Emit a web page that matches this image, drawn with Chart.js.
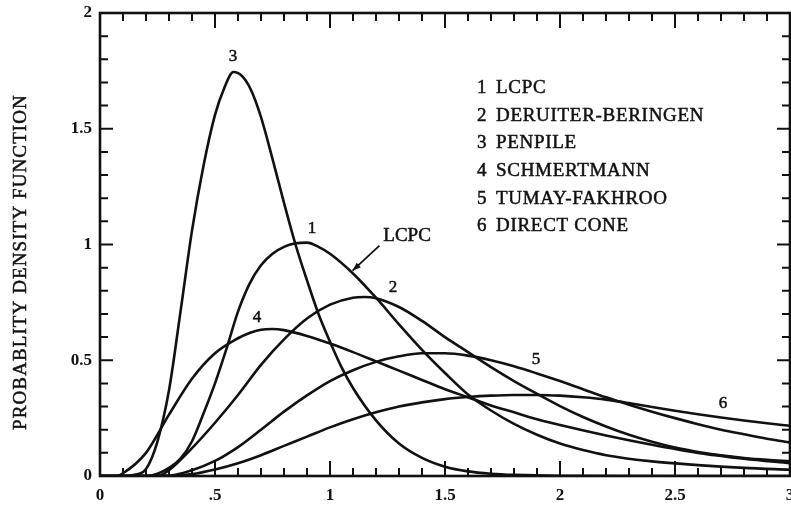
<!DOCTYPE html>
<html>
<head>
<meta charset="utf-8">
<script src="https://cdn.jsdelivr.net/npm/chart.js@4.4.1/dist/chart.umd.min.js"></script>
<style>
  html, body { margin: 0; padding: 0; background: #fff; }
</style>
</head>
<body>
<canvas id="pdfChart" width="791" height="505"></canvas>
<script>
// method names, numbered 1..6 as in the figure
const methodNames = ['LCPC', 'DERUITER-BERINGEN', 'PENPILE', 'SCHMERTMANN', 'TUMAY-FAKHROO', 'DIRECT CONE'];

// values
const lcpcX = [0, 0.2, 0.25, 0.3, 0.35, 0.4, 0.45, 0.5, 0.55, 0.6, 0.65, 0.7, 0.75, 0.8, 0.85, 0.9, 0.95, 1.0, 1.1, 1.2, 1.3, 1.4, 1.5, 1.6, 1.7, 1.8, 1.9, 2.0, 2.1, 2.2, 2.4, 2.6, 2.8, 3.0];
const lcpcY = [0, 0, 0.01, 0.035, 0.075, 0.15, 0.27, 0.4, 0.55, 0.71, 0.83, 0.91, 0.96, 0.99, 1.005, 1.008, 0.99, 0.96, 0.875, 0.77, 0.655, 0.545, 0.445, 0.352, 0.283, 0.225, 0.178, 0.14, 0.112, 0.09, 0.063, 0.047, 0.035, 0.027];

const deruiterX = [0, 0.25, 0.3, 0.4, 0.5, 0.6, 0.7, 0.8, 0.9, 1.0, 1.1, 1.15, 1.2, 1.3, 1.4, 1.5, 1.6, 1.7, 1.8, 1.9, 2.0, 2.1, 2.2, 2.3, 2.4, 2.5, 2.6, 2.7, 2.8, 2.9, 3.0];
const deruiterY = [0, 0, 0.025, 0.12, 0.23, 0.35, 0.48, 0.59, 0.68, 0.74, 0.77, 0.773, 0.768, 0.73, 0.67, 0.6, 0.535, 0.47, 0.41, 0.355, 0.302, 0.255, 0.214, 0.178, 0.148, 0.123, 0.104, 0.089, 0.078, 0.07, 0.064];

const penpileX = [0, 0.1, 0.15, 0.2, 0.25, 0.3, 0.35, 0.4, 0.45, 0.5, 0.54, 0.58, 0.62, 0.66, 0.7, 0.75, 0.8, 0.85, 0.9, 0.95, 1.0, 1.05, 1.1, 1.2, 1.3, 1.4, 1.5, 1.6, 1.7, 1.8, 2.0, 2.5, 3.0];
const penpileY = [0, 0, 0.005, 0.03, 0.15, 0.37, 0.71, 1.06, 1.34, 1.56, 1.675, 1.745, 1.725, 1.66, 1.55, 1.37, 1.18, 1.0, 0.845, 0.70, 0.58, 0.47, 0.38, 0.24, 0.14, 0.078, 0.04, 0.02, 0.01, 0.005, 0.001, 0, 0];

const schmertX = [0, 0.07, 0.1, 0.2, 0.3, 0.4, 0.5, 0.6, 0.65, 0.7, 0.75, 0.8, 0.9, 1.0, 1.1, 1.2, 1.3, 1.4, 1.5, 1.6, 1.7, 1.8, 1.9, 2.0, 2.2, 2.4, 2.6, 2.8, 3.0];
const schmertY = [0, 0, 0.012, 0.1, 0.265, 0.42, 0.53, 0.595, 0.618, 0.632, 0.635, 0.63, 0.605, 0.572, 0.535, 0.495, 0.455, 0.415, 0.375, 0.34, 0.305, 0.275, 0.245, 0.22, 0.175, 0.135, 0.1, 0.075, 0.055];

const tumayX = [0, 0.3, 0.4, 0.5, 0.6, 0.7, 0.8, 0.9, 1.0, 1.1, 1.2, 1.3, 1.4, 1.5, 1.6, 1.7, 1.8, 1.9, 2.0, 2.1, 2.2, 2.3, 2.4, 2.5, 2.6, 2.7, 2.8, 2.9, 3.0];
const tumayY = [0, 0.002, 0.025, 0.065, 0.125, 0.2, 0.278, 0.348, 0.41, 0.457, 0.493, 0.517, 0.53, 0.53, 0.52, 0.5, 0.474, 0.443, 0.41, 0.375, 0.34, 0.308, 0.278, 0.25, 0.224, 0.2, 0.18, 0.161, 0.145];

const directX = [0, 0.3, 0.4, 0.5, 0.6, 0.7, 0.8, 0.9, 1.0, 1.1, 1.2, 1.3, 1.4, 1.5, 1.6, 1.7, 1.8, 1.9, 2.0, 2.1, 2.2, 2.3, 2.4, 2.5, 2.6, 2.7, 2.8, 2.9, 3.0];
const directY = [0, 0, 0.008, 0.028, 0.055, 0.09, 0.13, 0.17, 0.21, 0.245, 0.275, 0.3, 0.318, 0.332, 0.341, 0.347, 0.35, 0.35, 0.347, 0.34, 0.33, 0.315, 0.298, 0.282, 0.267, 0.253, 0.24, 0.228, 0.217];

const xTickLabels = ['0', '.5', '1', '1.5', '2', '2.5', '3'];
const yTickLabels = ['0', '0.5', '1', '1.5', '2'];

const curves = [
    [lcpcX, lcpcY], [deruiterX, deruiterY], [penpileX, penpileY],
    [schmertX, schmertY], [tumayX, tumayY], [directX, directY]
];

const ink = '#111';
const serif = '"Liberation Serif", "Times New Roman", serif';

const datasets = curves.map(([xs, ys], i) => ({
    label: methodNames[i],
    data: xs.map((v, k) => ({ x: v, y: ys[k] })),
    borderColor: ink,
    borderWidth: 2.6,
    pointRadius: 0,
    fill: false,
    cubicInterpolationMode: 'monotone'
}));

// where the little curve numbers sit (data units)
const numberSpots = [[0.922, 1.07], [1.274, 0.815], [0.578, 1.81], [0.683, 0.683], [1.896, 0.505], [2.709, 0.315]];

// filled text with a thin outline, the scan prints a little heavy
function inkText(ctx, str, px, py) {
    ctx.fillText(str, px, py);
    ctx.strokeText(str, px, py);
}

const notes = {
    id: 'notes',
    afterDatasetsDraw(chart) {
        const { ctx, chartArea: { left, right, top, bottom }, scales: { x, y } } = chart;
        ctx.save();
        ctx.strokeStyle = ink;
        ctx.fillStyle = ink;

        // inward ticks on all four sides
        ctx.lineWidth = 2;
        ctx.beginPath();
        x.ticks.forEach(t => {
            const px = x.getPixelForValue(t.value);
            const len = Math.round(t.value * 10) % 5 === 0 ? 15 : 8;
            ctx.moveTo(px, bottom); ctx.lineTo(px, bottom - len);
            ctx.moveTo(px, top); ctx.lineTo(px, top + len);
        });
        y.ticks.forEach(t => {
            const py = y.getPixelForValue(t.value);
            const len = Math.round(t.value * 10) % 5 === 0 ? 13 : 8;
            ctx.moveTo(left, py); ctx.lineTo(left + len, py);
            ctx.moveTo(right, py); ctx.lineTo(right - len, py);
        });
        ctx.stroke();

        ctx.lineWidth = 2.6;
        ctx.strokeRect(left, top, right - left, bottom - top);

        // curve numbers
        ctx.lineWidth = 0.5;
        ctx.font = '17px ' + serif;
        ctx.textAlign = 'center';
        ctx.textBaseline = 'middle';
        numberSpots.forEach(([vx, vy], i) => {
            inkText(ctx, String(i + 1), x.getPixelForValue(vx), y.getPixelForValue(vy));
        });

        // LCPC call-out with arrow
        ctx.font = '19px ' + serif;
        inkText(ctx, 'LCPC', x.getPixelForValue(1.335), y.getPixelForValue(1.035));
        const ax0 = x.getPixelForValue(1.215), ay0 = y.getPixelForValue(0.995);
        const ax1 = x.getPixelForValue(1.098), ay1 = y.getPixelForValue(0.887);
        ctx.lineWidth = 1.8;
        ctx.beginPath(); ctx.moveTo(ax0, ay0); ctx.lineTo(ax1, ay1); ctx.stroke();
        const ang = Math.atan2(ay1 - ay0, ax1 - ax0);
        ctx.beginPath();
        ctx.moveTo(ax1, ay1);
        ctx.lineTo(ax1 - 9 * Math.cos(ang - 0.35), ay1 - 9 * Math.sin(ang - 0.35));
        ctx.lineTo(ax1 - 9 * Math.cos(ang + 0.35), ay1 - 9 * Math.sin(ang + 0.35));
        ctx.closePath(); ctx.fill();

        // numbered list of methods
        ctx.lineWidth = 0.5;
        ctx.textAlign = 'left';
        ctx.letterSpacing = '0.7px';
        methodNames.forEach((name, i) => {
            const ly = 88 + i * 27.7;
            inkText(ctx, String(i + 1), 477, ly);
            inkText(ctx, name, 496, ly);
        });

        // y axis title
        ctx.letterSpacing = '1.1px';
        ctx.translate(21, 262);
        ctx.rotate(-Math.PI / 2);
        ctx.textAlign = 'center';
        inkText(ctx, 'PROBABLITY DENSITY FUNCTION', 0, 0);
        ctx.restore();
    }
};

new Chart(document.getElementById('pdfChart').getContext('2d'), {
    type: 'line',
    data: { datasets },
    options: {
        responsive: false,
        devicePixelRatio: 1,
        animation: false,
        events: [],
        layout: { padding: { left: 0, right: 1, top: 13, bottom: 0 } },
        plugins: { legend: { display: false }, tooltip: { enabled: false } },
        scales: {
            x: {
                type: 'linear',
                min: 0, max: 3,
                grid: { display: false, drawTicks: false },
                border: { display: false },
                afterFit: s => { s.height = 29; s.paddingLeft = 0; s.paddingRight = 0; },
                ticks: {
                    stepSize: 0.1,
                    autoSkip: false,
                    maxRotation: 0,
                    padding: 9,
                    color: ink,
                    font: { family: serif, size: 17, weight: 'bold' },
                    callback: v => {
                        const k = Math.round(v * 10);
                        return k % 5 === 0 ? xTickLabels[k / 5] : '';
                    }
                }
            },
            y: {
                type: 'linear',
                min: 0, max: 2,
                grid: { display: false, drawTicks: false },
                border: { display: false },
                afterFit: s => { s.width = 100; s.paddingTop = 0; s.paddingBottom = 0; },
                ticks: {
                    stepSize: 0.1,
                    autoSkip: false,
                    padding: 8,
                    color: ink,
                    font: { family: serif, size: 17, weight: 'bold' },
                    callback: v => {
                        const k = Math.round(v * 10);
                        return k % 5 === 0 ? yTickLabels[k / 5] : '';
                    }
                }
            }
        }
    },
    plugins: [notes]
});
</script>
</body>
</html>
